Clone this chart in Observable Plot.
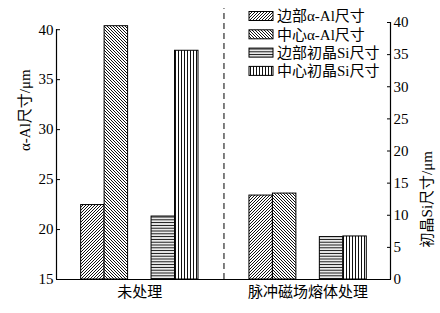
<!DOCTYPE html>
<html><head><meta charset="utf-8">
<script src="https://cdn.jsdelivr.net/npm/d3@7"></script>
<script src="https://cdn.jsdelivr.net/npm/@observablehq/plot@0.6"></script>
<style>
body{margin:0;background:#fff}
#chart{width:440px;height:313px}
</style>
</head><body><div id="chart"></div>
<script>
// ---- data ----
const groups = ["未处理", "脉冲磁场熔体处理"];
const series = ["边部α-Al尺寸", "中心α-Al尺寸", "边部初晶Si尺寸", "中心初晶Si尺寸"];
const edgeAlpha = [22.45, 23.4];     // μm, left axis
const centerAlpha = [40.35, 23.6];   // μm, left axis
const edgeSi = [9.8, 6.6];           // μm, right axis
const centerSi = [35.6, 6.7];        // μm, right axis
const leftTicks = [15, 20, 25, 30, 35, 40];
const rightTicks = [0, 5, 10, 15, 20, 25, 30, 35, 40];
const leftLabel = "α-Al尺寸/μm";
const rightLabel = "初晶Si尺寸/μm";

// ---- dual-axis mapping (right axis values expressed in left units) ----
const yMin = 15, yMax = 40.72, siMax = 40;
const siToLeft = v => yMin + v * (yMax - yMin) / siMax;
const leftToSi = v => (v - yMin) * siMax / (yMax - yMin);

// ---- layout in slot units (one bar = one slot) ----
const seriesSlot = [0, 1, 3, 4];
const groupStep = 7.17, firstStart = 1.05, xMax = 14.23;
const groupStart = g => firstStart + g * groupStep;

const table = [];
groups.forEach((grp, g) => {
  const vals = [edgeAlpha[g], centerAlpha[g], edgeSi[g], centerSi[g]];
  series.forEach((s, i) => {
    const v = vals[i];
    table.push({
      group: grp, series: s, si: i,
      value: v,
      y: i < 2 ? v : siToLeft(v),
      x1: groupStart(g) + seriesSlot[i],
      x2: groupStart(g) + seriesSlot[i] + 1
    });
  });
});
const groupCenters = groups.map((grp, g) => ({label: grp, x: groupStart(g) + 2.5}));
const sepX = groupStart(0) + 5 + (groupStep - 5) / 2;

const font = "'Liberation Serif','Noto Sans CJK SC',serif";

const plot = Plot.plot({
  width: 440, height: 313,
  marginLeft: 56, marginRight: 50, marginTop: 22, marginBottom: 34,
  style: {fontFamily: font, fontSize: "15px", background: "#fff", color: "#000", overflow: "visible"},
  x: {domain: [0, xMax], axis: null},
  y: {domain: [yMin, yMax]},
  marks: [
    Plot.rectY(table, {x1: "x1", x2: "x2", y1: yMin, y2: "y",
      fill: d => `url(#pat${d.si})`, stroke: "#000", strokeWidth: 1}),
    Plot.ruleX([sepX], {y1: yMin, y2: 42.1, stroke: "#000", strokeWidth: 1, strokeDasharray: "6,4"}),
    Plot.ruleY([yMin], {x1: 0, x2: xMax, stroke: "#000", strokeWidth: 1.2}),
    Plot.ruleX([0], {y1: yMin, y2: 40, stroke: "#000", strokeWidth: 1.2}),
    Plot.ruleX([xMax], {y1: yMin, y2: yMax, stroke: "#000", strokeWidth: 1.2}),
    Plot.axisY(leftTicks, {anchor: "left", tickSize: -4, tickPadding: 7, label: null, fontSize: 15}),
    Plot.axisY(rightTicks.map(siToLeft), {anchor: "right", tickSize: -4, tickPadding: 7, label: null,
      tickFormat: d => String(Math.round(leftToSi(d))), fontSize: 15}),
    Plot.text([leftLabel], {frameAnchor: "left", dx: -31, rotate: -90, fontSize: 15}),
    Plot.text([rightLabel], {frameAnchor: "right", dx: 37, rotate: -90, fontSize: 15}),
    Plot.text(groupCenters, {x: "x", text: "label", frameAnchor: "bottom", dy: 13, fontSize: 15, lineAnchor: "middle"})
  ]
});
document.getElementById("chart").appendChild(plot);

// ---- hatch patterns ----
const svg = d3.select(plot);
const defs = svg.insert("defs", ":first-child");
const ink = "#111";
function pat(id, w, h, d, sw) {
  const p = defs.append("pattern").attr("id", id).attr("patternUnits", "userSpaceOnUse")
    .attr("width", w).attr("height", h);
  p.append("rect").attr("width", w).attr("height", h).attr("fill", "#fff");
  p.append("path").attr("d", d).attr("stroke", ink).attr("stroke-width", sw).attr("fill", "none");
}
pat("pat0", 3, 3, "M-0.75,0.75L0.75,-0.75M0,3L3,0M2.25,3.75L3.75,2.25", 1);
pat("pat1", 3, 3, "M-0.75,2.25L0.75,3.75M0,0L3,3M2.25,-0.75L3.75,0.75", 1);
pat("pat2", 4, 2.8, "M0,1.4H4", 1.1);
pat("pat3", 3, 4, "M1.5,0V4", 1);

// ---- legend (inside plot, top right) ----
const lg = svg.append("g").attr("font-family", font).attr("font-size", 15).attr("text-anchor", "start");
series.forEach((s, i) => {
  const cy = 16 + i * 18.3;
  lg.append("rect").attr("x", 249).attr("y", cy - 4.5).attr("width", 24).attr("height", 9)
    .attr("fill", `url(#pat${i})`).attr("stroke", "#000").attr("stroke-width", 1);
  lg.append("text").attr("x", 277).attr("y", cy).attr("dy", "0.35em").attr("fill", "#000")
    .attr("text-anchor", "start").text(s);
});
</script>
</body></html>
